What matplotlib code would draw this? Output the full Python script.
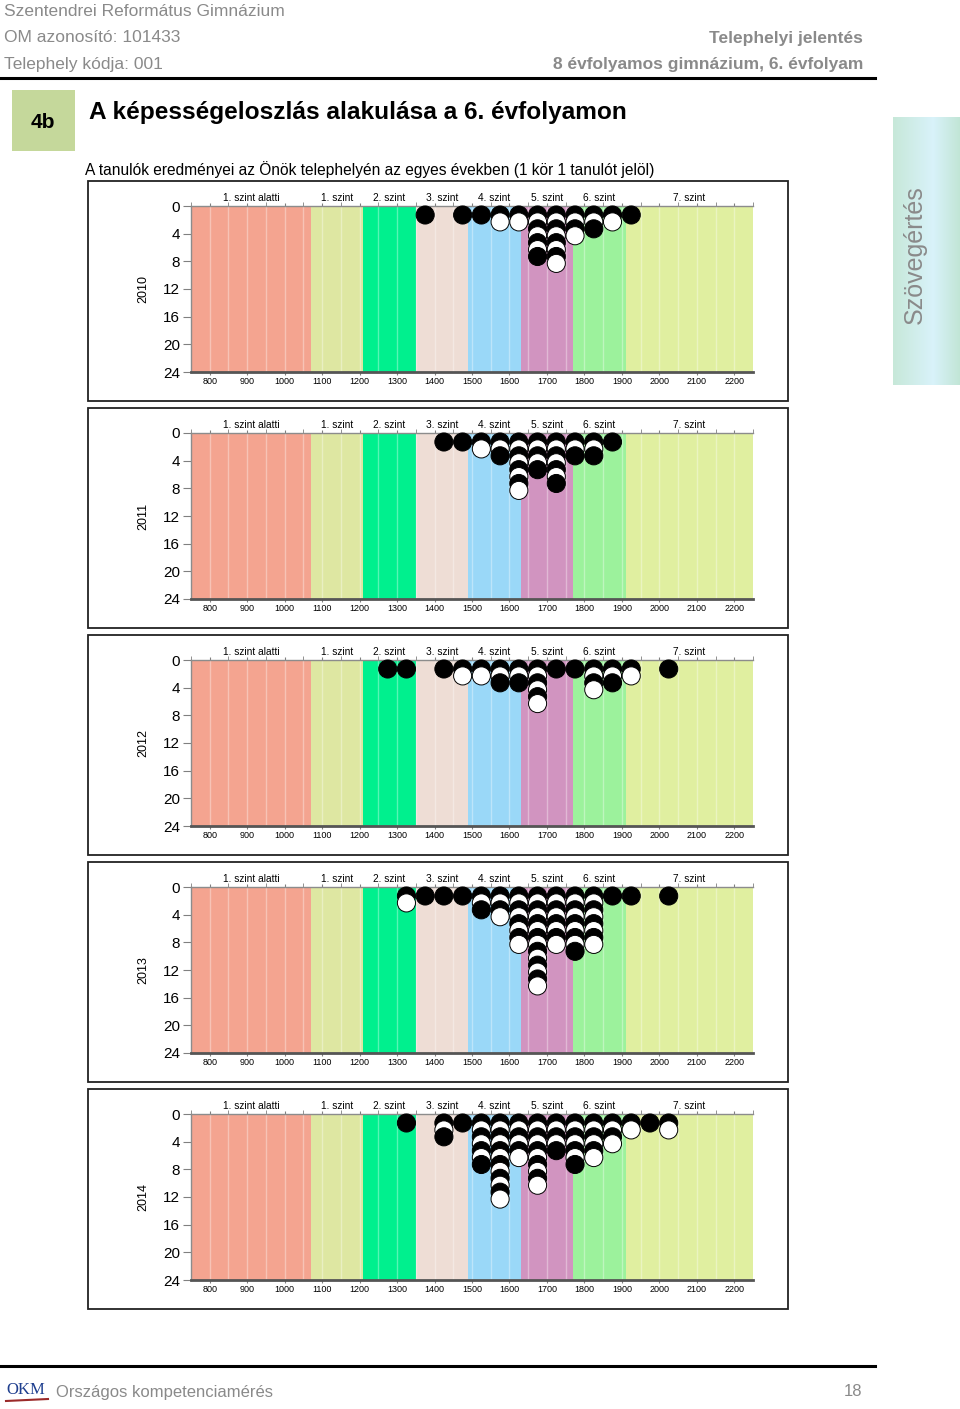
import numpy as np
import matplotlib
matplotlib.use("Agg")
import matplotlib.pyplot as plt
from matplotlib.patches import Rectangle
from matplotlib.ticker import MultipleLocator

plt.rcParams['font.family'] = ['Liberation Sans', 'DejaVu Sans']

W, H = 960, 1409

years = ["2010", "2011", "2012", "2013", "2014"]
# centres of the 50-point score bins
bins = [1275, 1325, 1375, 1425, 1475, 1525, 1575, 1625,
        1675, 1725, 1775, 1825, 1875, 1925, 1975, 2025]
counts_2010 = [0, 0, 1, 0, 1, 1, 2, 2, 7, 8, 4, 3, 2, 1, 0, 0]
counts_2011 = [0, 0, 0, 1, 1, 2, 3, 8, 5, 7, 3, 3, 1, 0, 0, 0]
counts_2012 = [1, 1, 0, 1, 2, 2, 3, 3, 6, 1, 1, 4, 3, 2, 0, 1]
counts_2013 = [0, 2, 1, 1, 1, 3, 4, 8, 14, 8, 9, 8, 1, 1, 0, 1]
counts_2014 = [0, 1, 0, 3, 1, 7, 12, 6, 10, 5, 7, 6, 4, 2, 1, 2]
all_counts = [counts_2010, counts_2011, counts_2012, counts_2013, counts_2014]

levels = ["1. szint alatti", "1. szint", "2. szint", "3. szint",
          "4. szint", "5. szint", "6. szint", "7. szint"]
level_edges = [750, 1070, 1210, 1350, 1490, 1630, 1770, 1910, 2250]
level_colors = ["#F4A490", "#DEE7A2", "#00F08E", "#EEDDD5",
                "#9AD8F8", "#D194C0", "#9CF29C", "#E0EFA0"]

x_ticks = list(range(800, 2201, 100))
y_ticks = [0, 4, 8, 12, 16, 20, 24]


def fx(px):
    return px / W


def fy(py):
    return 1 - py / H


fig = plt.figure(figsize=(W / 100, H / 100), dpi=100, facecolor="white")

# ---- header
gray = "#8a8a8a"
fig.text(fx(4), fy(12), "Szentendrei Református Gimnázium", color=gray,
         fontsize=12.5, va="center", ha="left")
fig.text(fx(4), fy(38), "OM azonosító: 101433", color=gray,
         fontsize=12.5, va="center", ha="left")
fig.text(fx(4), fy(64), "Telephely kódja: 001", color=gray,
         fontsize=12.5, va="center", ha="left")
fig.text(fx(863), fy(38), "Telephelyi jelentés", color=gray,
         fontsize=12.5, va="center", ha="right", fontweight="bold")
fig.text(fx(863), fy(64), "8 évfolyamos gimnázium, 6. évfolyam", color=gray,
         fontsize=12.5, va="center", ha="right", fontweight="bold")
fig.add_artist(plt.Line2D([0, fx(875)], [fy(78), fy(78)], color="black", lw=2.2))

fig.patches.append(Rectangle((fx(12), fy(151)), fx(63), 61 / H,
                             transform=fig.transFigure, facecolor="#C5D89B",
                             edgecolor="none"))
fig.text(fx(43), fy(122), "4b", fontsize=15, fontweight="bold",
         ha="center", va="center")
fig.text(fx(89), fy(112), "A képességeloszlás alakulása a 6. évfolyamon",
         fontsize=17.6, fontweight="bold", ha="left", va="center")
fig.text(fx(85), fy(170),
         "A tanulók eredményei az Önök telephelyén az egyes években (1 kör 1 tanulót jelöl)",
         fontsize=11.2, ha="left", va="center")

# ---- side tab
tab = fig.add_axes([fx(893), fy(385), fx(67), 268 / H])
grad = np.linspace(0, 1, 100)
c_left = np.array([0.78, 0.91, 0.85])
c_mid = np.array([0.85, 0.95, 0.98])
c_right = np.array([0.76, 0.90, 0.84])
prof = np.where(grad < 0.6, grad / 0.6, (1 - grad) / 0.4)[:, None]
base = np.where(grad[:, None] < 0.6, c_left, c_right)
row = base * (1 - prof) + c_mid * prof
tab.imshow(row[None, :, :].repeat(2, axis=0), aspect="auto",
           extent=[0, 1, 0, 1])
tab.set_xlim(0, 1)
tab.set_ylim(0, 1)
tab.axis("off")
tab.text(0.33, 0.485, "Szövegértés", rotation=90, color="#8a8a8a",
         fontsize=18, ha="center", va="center", transform=tab.transAxes)

# ---- panels
for i, (year, counts) in enumerate(zip(years, all_counts)):
    top = 181 + 227 * i
    fig.patches.append(Rectangle((fx(88), fy(top + 220)), fx(700), 220 / H,
                                 transform=fig.transFigure, facecolor="none",
                                 edgecolor="#222222", lw=1.3))
    ax = fig.add_axes([fx(191), fy(top + 191), fx(562), 166 / H])
    for j, name in enumerate(levels):
        ax.axvspan(level_edges[j], level_edges[j + 1],
                   color=level_colors[j], zorder=0, lw=0)
        ax.text((level_edges[j] + level_edges[j + 1]) / 2, 1.017, name,
                transform=ax.get_xaxis_transform(), ha="center", va="bottom",
                fontsize=7.3)
    for xv in range(800, 2250, 50):
        ax.axvline(xv, color="white", alpha=0.35, lw=1, zorder=1)

    xs, ys, cs = [], [], []
    for b, n in zip(bins, counts):
        for k in range(1, n + 1):
            xs.append(b)
            ys.append(k + 0.3)
            cs.append("black" if k % 2 == 1 else "white")
    ax.scatter(xs, ys, s=170, c=cs, edgecolors="black", linewidths=0.7,
               zorder=3, clip_on=False)

    ax.set_xlim(level_edges[0], level_edges[-1])
    ax.set_ylim(24, 0)
    ax.set_yticks(y_ticks)
    ax.set_xticks(x_ticks)
    ax.xaxis.set_minor_locator(MultipleLocator(50))
    ax.tick_params(axis="y", direction="out", length=6, color="#808080",
                   labelsize=11, pad=2)
    ax.tick_params(axis="x", which="major", direction="out", length=2,
                   color="#808080", labelsize=6.5, pad=1.5, top=True)
    ax.tick_params(axis="x", which="minor", direction="out", length=3,
                   color="#808080", top=True, bottom=False)
    for side in ["left", "top"]:
        ax.spines[side].set_color("#8c8c8c")
        ax.spines[side].set_linewidth(1)
    ax.spines["bottom"].set_color("#555555")
    ax.spines["bottom"].set_linewidth(2)
    ax.spines["right"].set_visible(False)
    ax.text(-0.084, 0.5, year, rotation=90, transform=ax.transAxes,
            ha="center", va="center", fontsize=9)

# ---- footer
fig.add_artist(plt.Line2D([0, fx(875)], [fy(1366), fy(1366)], color="black", lw=2.2))
fig.text(fx(6), fy(1390), "OKM", color="#1f3f8f", fontsize=12,
         family="Liberation Serif", ha="left", va="center")
fig.add_artist(plt.Line2D([fx(6), fx(48)], [fy(1401), fy(1399)],
                          color="#9b2a2a", lw=1.5))
fig.text(fx(56), fy(1392), "Országos kompetenciamérés", color=gray,
         fontsize=12, ha="left", va="center")
fig.text(fx(862), fy(1392), "18", color=gray, fontsize=12,
         ha="right", va="center")

fig.savefig("out.png", dpi=100)
